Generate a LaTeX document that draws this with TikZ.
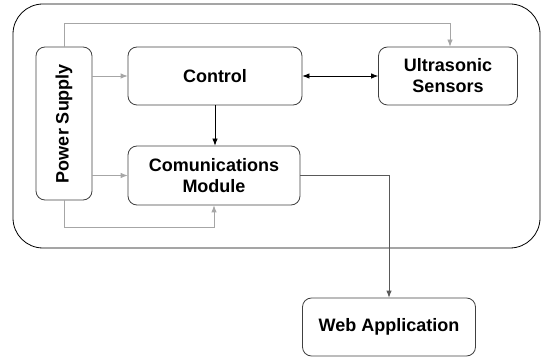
\documentclass[tikz,border=0pt]{standalone}
\usepackage{fontspec}
\setmainfont{Liberation Sans}
\usetikzlibrary{arrows.meta}
\definecolor{linegray}{HTML}{A6A6A6}
\definecolor{boxline}{HTML}{404040}
\definecolor{darkline}{HTML}{595959}
\begin{document}
\begin{tikzpicture}
[x=1pt, y=-1pt, line width=0.8pt,
font=\fontsize{18}{21}\selectfont\bfseries,
block/.style={rectangle, draw=boxline, rounded corners=9pt, align=center, inner sep=0pt},
feed/.style={draw=linegray, -{Latex[length=7pt,width=5.5pt]}},
data/.style={draw=black, -{Latex[length=7pt,width=5.5pt]}},
link/.style={draw=darkline, -{Latex[length=7pt,width=5.5pt]}}
]
\useasboundingbox (0,0) rectangle (541,358);

% system enclosure
\draw[black, rounded corners=30pt] (13,4) rectangle (540,248);

\node[block, minimum width=56pt, minimum height=153pt] (psu) at (64,123.5) {\rotatebox{90}{Power Supply}};
\node[block, minimum width=174pt, minimum height=58pt] (ctrl) at (215,76) {Control};
\node[block, minimum width=172pt, minimum height=59pt] (comm) at (214,175.5) {Comunications\\Module};
\node[block, minimum width=139pt, minimum height=58pt] (sens) at (448,76) {Ultrasonic\\Sensors};
\node[block, minimum width=173pt, minimum height=58pt] (web) at (389,327) {Web Application};

% power lines
\draw[feed] (psu.north) -- ++(0,-23) -| ([xshift=2pt]sens.north);
\draw[feed] (psu.east |- ctrl.west) -- (ctrl.west);
\draw[feed] (psu.east |- comm.west) -- (comm.west);
\draw[feed] (psu.south) -- ++(0,27) -| (comm.south);

% data lines
\draw[data] (ctrl.south) -- (ctrl.south |- comm.north);
\draw[data, {Latex[length=7pt,width=5.5pt]}-{Latex[length=7pt,width=5.5pt]}] (ctrl.east) -- (sens.west);
\draw[link] (comm.east) -| (web.north);
\end{tikzpicture}
\end{document}
